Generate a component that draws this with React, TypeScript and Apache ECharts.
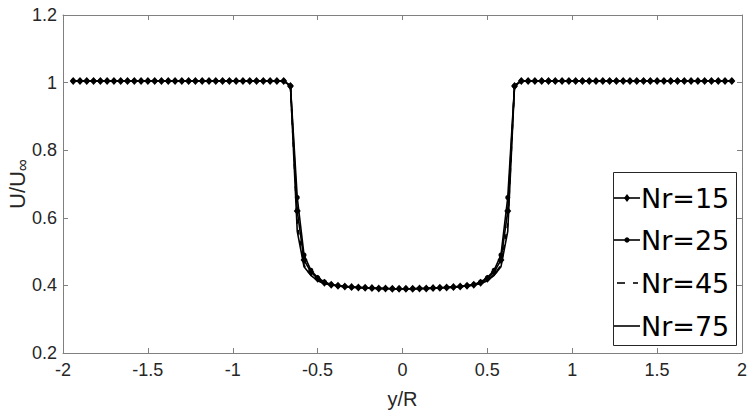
import React, { useEffect, useRef } from 'react';
import * as echarts from 'echarts';

// sample positions y/R
const yR = [
  -1.94, -1.9, -1.86, -1.82, -1.78, -1.74, -1.7, -1.66, -1.62, -1.58, -1.54, -1.5, -1.46, -1.42, -1.38, -1.34,
  -1.3, -1.26, -1.22, -1.18, -1.14, -1.1, -1.06, -1.02, -0.98, -0.94, -0.9, -0.86, -0.82, -0.78, -0.74, -0.7,
  -0.66, -0.62, -0.58, -0.54, -0.5, -0.46, -0.42, -0.38, -0.34, -0.3, -0.26, -0.22, -0.18, -0.14, -0.1, -0.06,
  -0.02, 0.02, 0.06, 0.1, 0.14, 0.18, 0.22, 0.26, 0.3, 0.34, 0.38, 0.42, 0.46, 0.5, 0.54, 0.58, 0.62, 0.66,
  0.7, 0.74, 0.78, 0.82, 0.86, 0.9, 0.94, 0.98, 1.02, 1.06, 1.1, 1.14, 1.18, 1.22, 1.26, 1.3, 1.34, 1.38,
  1.42, 1.46, 1.5, 1.54, 1.58, 1.62, 1.66, 1.7, 1.74, 1.78, 1.82, 1.86, 1.9, 1.94,
];

// free-stream plateaus (y/R -1.94..-0.70 and 0.70..1.94)
const plateauLeft = [
  1.005, 1.005, 1.005, 1.005, 1.005, 1.005, 1.005, 1.005, 1.005, 1.005, 1.005, 1.005, 1.005, 1.005, 1.005, 1.005,
  1.005, 1.005, 1.005, 1.005, 1.005, 1.005, 1.005, 1.005, 1.005, 1.005, 1.005, 1.005, 1.005, 1.005, 1.005, 1.005,
];
const plateauRight = [
  1.005, 1.005, 1.005, 1.005, 1.005, 1.005, 1.005, 1.005, 1.005, 1.005, 1.005, 1.005, 1.005, 1.005, 1.005, 1.005,
  1.005, 1.005, 1.005, 1.005, 1.005, 1.005, 1.005, 1.005, 1.005, 1.005, 1.005, 1.005, 1.005, 1.005, 1.005, 1.005,
];

// wake region (y/R -0.66..0.66)
const core15 = [
  0.99, 0.62, 0.475, 0.44, 0.42, 0.408, 0.402, 0.399, 0.397, 0.395, 0.394, 0.393, 0.392, 0.391, 0.391, 0.39, 0.39,
  0.39, 0.39, 0.391, 0.391, 0.392, 0.393, 0.394, 0.395, 0.397, 0.399, 0.402, 0.408, 0.42, 0.44, 0.475, 0.62, 0.99,
];
const core25 = [
  0.99, 0.66, 0.49, 0.445, 0.423, 0.41, 0.403, 0.399, 0.397, 0.395, 0.394, 0.393, 0.392, 0.391, 0.391, 0.39, 0.39,
  0.39, 0.39, 0.391, 0.391, 0.392, 0.393, 0.394, 0.395, 0.397, 0.399, 0.403, 0.41, 0.423, 0.445, 0.49, 0.66, 0.99,
];
const core45 = [
  0.99, 0.58, 0.46, 0.432, 0.416, 0.406, 0.401, 0.398, 0.396, 0.395, 0.394, 0.393, 0.392, 0.391, 0.391, 0.39, 0.39,
  0.39, 0.39, 0.391, 0.391, 0.392, 0.393, 0.394, 0.395, 0.396, 0.398, 0.401, 0.406, 0.416, 0.432, 0.46, 0.58, 0.99,
];
const core75 = [
  0.99, 0.56, 0.455, 0.43, 0.414, 0.405, 0.401, 0.398, 0.396, 0.395, 0.394, 0.393, 0.392, 0.391, 0.391, 0.39, 0.39,
  0.39, 0.39, 0.391, 0.391, 0.392, 0.393, 0.394, 0.395, 0.396, 0.398, 0.401, 0.405, 0.414, 0.43, 0.455, 0.56, 0.99,
];

const seriesNames = ['Nr=15', 'Nr=25', 'Nr=45', 'Nr=75'];
const xMin = -2, xMax = 2, xStep = 0.5;
const yMin = 0.2, yMax = 1.2, yStep = 0.2;

export default function App() {
  const ref = useRef<HTMLDivElement>(null);
  useEffect(() => {
    const chart = echarts.init(ref.current!, null, { renderer: 'svg' });
    const font = '"Liberation Sans", Arial, Helvetica, sans-serif';
    const legendFont = '"DejaVu Sans", sans-serif';
    const axisColor = '#808080';
    const textColor = '#262626';
    const build = (core: number[]) =>
      [...plateauLeft, ...core, ...plateauRight].map((v, i) => [yR[i], v]);

    const baseX = {
      type: 'value', min: xMin, max: xMax, interval: xStep,
      axisLine: { show: true, onZero: false, lineStyle: { color: axisColor, width: 1 } },
      axisTick: { show: true, inside: true, length: 5, lineStyle: { color: axisColor } },
      splitLine: { show: false },
    };
    const baseY = {
      type: 'value', min: yMin, max: yMax, interval: yStep,
      axisLine: { show: true, onZero: false, lineStyle: { color: axisColor, width: 1 } },
      axisTick: { show: true, inside: true, length: 5, lineStyle: { color: axisColor } },
      splitLine: { show: false },
    };

    const lineSeries = (name: string, core: number[], opts: any) => ({
      name, type: 'line', data: build(core), xAxisIndex: 0, yAxisIndex: 0,
      showAllSymbol: true, clip: false,
      lineStyle: { color: '#000', width: 1.6, ...(opts.lineStyle || {}) },
      itemStyle: { color: '#000' },
      symbol: opts.symbol || 'none', symbolSize: opts.symbolSize || 0,
      z: opts.z || 2,
    });

    // legend drawn as graphic (box + icons + texts)
    const lgX = 613, lgY = 172, lgW = 123, lgH = 173;
    const rowY = [198, 240, 283, 326];
    const iconL = 614, iconR = 640, textX = 641;
    const legendEls: any[] = [
      {
        type: 'rect', shape: { x: lgX + 0.5, y: lgY + 0.5, width: lgW, height: lgH },
        style: { fill: '#fff', stroke: '#262626', lineWidth: 1 }, z: 100,
      },
    ];
    seriesNames.forEach((n, i) => {
      const cy = rowY[i];
      if (i === 2) {
        legendEls.push(
          { type: 'line', shape: { x1: 617, y1: cy, x2: 625, y2: cy }, style: { stroke: '#000', lineWidth: 1.6 }, z: 101 },
          { type: 'line', shape: { x1: 633, y1: cy, x2: 638, y2: cy }, style: { stroke: '#000', lineWidth: 1.6 }, z: 101 },
        );
      } else {
        legendEls.push({
          type: 'line', shape: { x1: iconL, y1: cy, x2: iconR, y2: cy },
          style: { stroke: '#000', lineWidth: 1.6 }, z: 101,
        });
      }
      const mx = (iconL + iconR) / 2;
      if (i === 0) {
        legendEls.push({
          type: 'polygon', shape: { points: [[mx, cy - 4], [mx + 3, cy], [mx, cy + 4], [mx - 3, cy]] },
          style: { fill: '#000' }, z: 102,
        });
      } else if (i === 1) {
        legendEls.push({ type: 'circle', shape: { cx: mx, cy, r: 2.6 }, style: { fill: '#000' }, z: 102 });
      }
      legendEls.push({
        type: 'text', x: textX, y: cy,
        style: { text: n, font: `27px ${legendFont}`, fill: '#000', textAlign: 'left', textVerticalAlign: 'middle' },
        z: 102,
      });
    });

    chart.setOption({
      animation: false,
      backgroundColor: '#fff',
      grid: { left: 63, right: 13, top: 15, bottom: 57, containLabel: false, outerBoundsMode: 'none' },
      xAxis: [
        {
          ...baseX, position: 'bottom',
          axisLabel: { color: textColor, fontSize: 18, fontFamily: font, margin: 8 },
          name: 'y/R', nameLocation: 'middle', nameGap: 36, nameMoveOverlap: false,
          nameTextStyle: { color: textColor, fontSize: 20, fontFamily: font },
        },
        { ...baseX, position: 'top', axisLabel: { show: false } },
      ],
      yAxis: [
        {
          ...baseY, position: 'left',
          axisLabel: { color: textColor, fontSize: 18, fontFamily: font, margin: 6 },
          name: '{a|U/U}{b|∞}', nameLocation: 'middle', nameGap: 40, nameMoveOverlap: false,
          nameTextStyle: {
            color: textColor, fontFamily: font,
            rich: {
              a: { fontSize: 22, lineHeight: 17, verticalAlign: 'top', color: textColor, fontFamily: font },
              b: { fontSize: 17, lineHeight: 16, padding: [16, 0, 0, 0], color: textColor, fontFamily: font },
            },
          },
        },
        { ...baseY, position: 'right', axisLabel: { show: false } },
      ],
      graphic: legendEls,
      series: [
        lineSeries(seriesNames[0], core15, { symbol: 'diamond', symbolSize: [7, 8], z: 4 }),
        lineSeries(seriesNames[1], core25, { symbol: 'circle', symbolSize: 5, z: 3 }),
        lineSeries(seriesNames[2], core45, { lineStyle: { type: [5, 6] } }),
        lineSeries(seriesNames[3], core75, {}),
      ],
    });
    return () => chart.dispose();
  }, []);
  return (
    <div
      ref={ref}
      style={{ position: 'fixed', left: 0, top: 0, width: 755, height: 410, background: '#fff' }}
    />
  );
}
